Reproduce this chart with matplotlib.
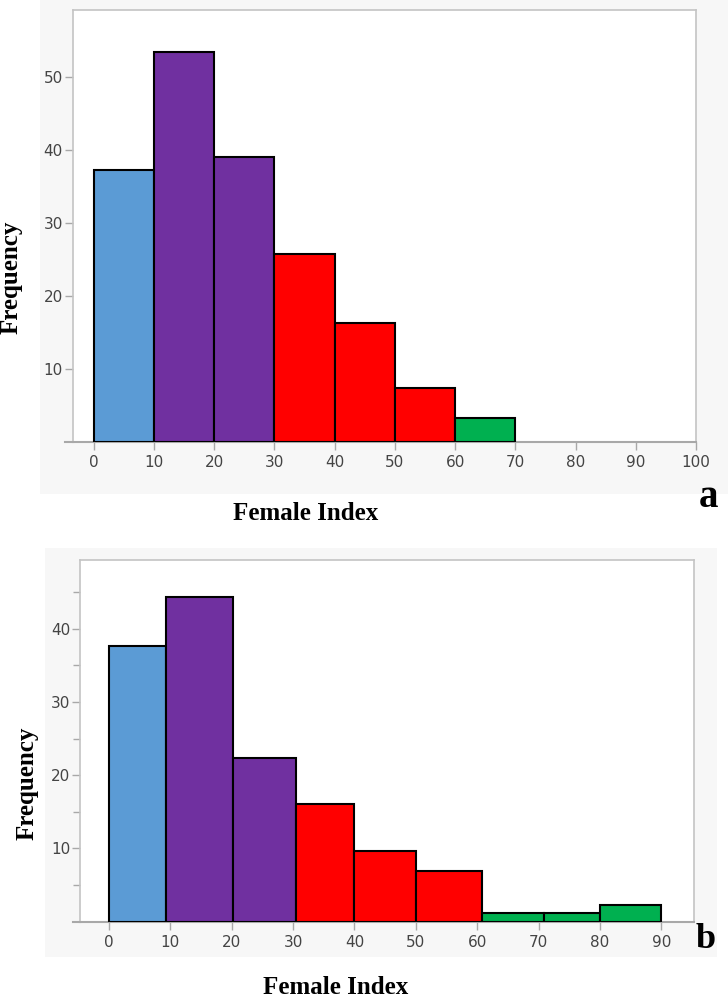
import matplotlib.pyplot as plt
from matplotlib.patches import Rectangle

# panel a: female index histogram (bin edges and frequencies)
edges_a = [0, 10, 20, 30, 40, 50, 60, 70]
freq_a = [37.3, 53.5, 39.1, 25.8, 16.3, 7.4, 3.3]
colors_a = ['#5b9bd5', '#7030a0', '#7030a0', '#ff0000', '#ff0000', '#ff0000', '#00b050']

# panel b
edges_b = [0, 9.3, 20.2, 30.5, 40, 50, 60.7, 70.8, 80, 90]
freq_b = [37.7, 44.3, 22.3, 16.1, 9.7, 6.9, 1.1, 1.1, 2.2]
colors_b = ['#5b9bd5', '#7030a0', '#7030a0', '#ff0000', '#ff0000', '#ff0000',
            '#00b050', '#00b050', '#00b050']

xticks_a = list(range(0, 101, 10))
yticks_a = [10, 20, 30, 40, 50]
xticks_b = list(range(0, 91, 10))
yticks_b = [10, 20, 30, 40]
yminor_b = [5, 15, 25, 35, 45]

W, H = 728, 997
fig = plt.figure(figsize=(W / 100, H / 100), dpi=100)
fig.patch.set_facecolor('white')

tick_font = ['Liberation Sans Narrow', 'DejaVu Sans']
serif = ['Liberation Serif', 'DejaVu Serif']


def px_rect(x0, y0, x1, y1):
    # convert pixel box (top-left origin) to figure fraction
    return [x0 / W, 1 - y1 / H, (x1 - x0) / W, (y1 - y0) / H]


# light gray background panels
for x0, y0, x1, y1 in [(40, 0, 728, 494), (45, 548, 717, 957)]:
    r = px_rect(x0, y0, x1, y1)
    fig.patches.append(Rectangle((r[0], r[1]), r[2], r[3], transform=fig.transFigure,
                                 facecolor='#f7f7f7', edgecolor='none', zorder=-5))


def draw_hist(ax, edges, freq, colors, xlim, ylim, xticks, yticks):
    widths = [edges[i + 1] - edges[i] for i in range(len(freq))]
    ax.bar(edges[:-1], freq, width=widths, align='edge', color=colors,
           edgecolor='black', linewidth=1.5, zorder=3)
    ax.set_xlim(*xlim)
    ax.set_ylim(*ylim)
    ax.set_xticks(xticks)
    ax.set_yticks(yticks)
    ax.set_facecolor('white')
    for s in ['top', 'right', 'left']:
        ax.spines[s].set_color('#c4c4c4')
        ax.spines[s].set_linewidth(1.2)
    ax.spines['bottom'].set_color('#a8a8a8')
    ax.spines['bottom'].set_linewidth(1.5)
    ax.tick_params(axis='both', which='both', direction='out', color='#a8a8a8',
                   labelcolor='#444444', labelsize=11, length=6, width=1)
    ax.tick_params(axis='y', pad=1)
    for lab in ax.get_xticklabels() + ax.get_yticklabels():
        lab.set_family(tick_font)
    # axis line sticks out a little to the left
    ax.plot([-0.012, 0], [0, 0], transform=ax.transAxes, clip_on=False,
            color='#a8a8a8', linewidth=1.5)


ax1 = fig.add_axes(px_rect(72.7, 10, 696, 442))
draw_hist(ax1, edges_a, freq_a, colors_a, (-3.5, 100), (0, 59.2), xticks_a, yticks_a)

ax2 = fig.add_axes(px_rect(80, 560, 694, 921.5))
draw_hist(ax2, edges_b, freq_b, colors_b, (-4.7, 95.3), (0, 49.4), xticks_b, yticks_b)
ax2.set_yticks(yminor_b, minor=True)
ax2.tick_params(axis='y', which='minor', length=5, color='#a8a8a8')

lab_kw = dict(family=serif, fontweight='bold', color='black')
fig.text(306 / W, 1 - 513 / H, 'Female Index', ha='center', va='center', fontsize=18, **lab_kw)
fig.text(336 / W, 1 - 987 / H, 'Female Index', ha='center', va='center', fontsize=18, **lab_kw)
fig.text(11 / W, 1 - 277 / H, 'Frequency', ha='center', va='center', rotation=90,
         fontsize=18, **lab_kw)
fig.text(27 / W, 1 - 783 / H, 'Frequency', ha='center', va='center', rotation=90,
         fontsize=18, **lab_kw)
fig.text(708 / W, 1 - 497 / H, 'a', ha='center', va='center', fontsize=28, **lab_kw)
fig.text(706 / W, 1 - 939 / H, 'b', ha='center', va='center', fontsize=26, **lab_kw)

fig.savefig('out.png', dpi=100)
